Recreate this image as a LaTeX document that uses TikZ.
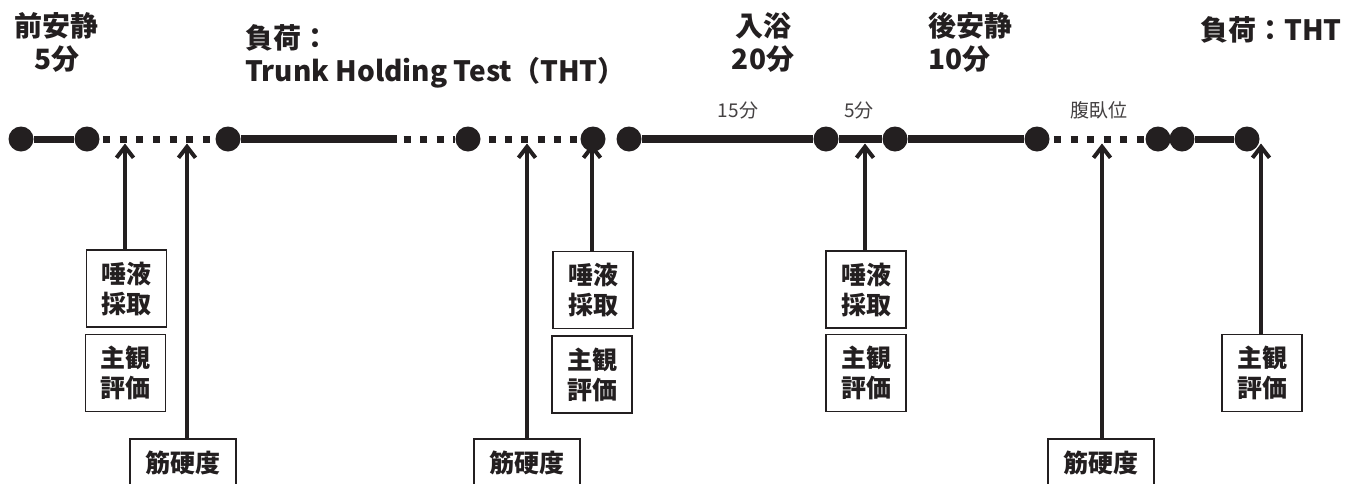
\documentclass[tikz,border=0pt]{standalone}
\usepackage{fontspec}
\setmainfont{Noto Sans CJK JP}
\usetikzlibrary{arrows.meta}
\definecolor{ink}{HTML}{231F20}
\begin{document}
\begin{tikzpicture}[x=1pt,y=-1pt,
  dot/.style={circle,fill=ink,inner sep=0pt,minimum size=25pt},
  thickln/.style={draw=ink,line width=8.5pt},
  thinln/.style={draw=ink,line width=7pt},
  dotln/.style={draw=ink,line width=7pt},
  box/.style={draw=ink,line width=1.8pt,minimum width=80pt,minimum height=77pt,inner sep=0pt,align=center,text=ink,font=\bfseries\fontsize{25}{30}\selectfont},
  wbox/.style={draw=ink,line width=1.8pt,minimum width=106pt,minimum height=48pt,inner sep=0pt,text=ink,font=\bfseries\fontsize{25}{30}\selectfont},
  arr/.style={draw=ink,line width=4pt,-{Straight Barb[length=11pt,width=17pt]}},
  head/.style={inner sep=0pt,text=ink,font=\bfseries\fontsize{28}{33}\selectfont},
  small/.style={inner sep=0pt,text=ink!85,font=\fontsize{19}{19}\selectfont}]
\useasboundingbox (0,0) rectangle (1369,483);
% headers
\node[head,align=center] (h1) at (57,42) {前安静\\5分};
\node[head,align=left,anchor=west] (h2) at (245,56) {負荷：\\Trunk Holding Test（THT）};
\node[head,align=center] (h3) at (763,42) {入浴\\20分};
\node[head,align=left,anchor=west] (h4) at (928,42) {後安静\\10分};
\node[head,anchor=west] (h5) at (1200,30) {負荷：THT};
\node[small] (l1) at (738,110) {15分};
\node[small] (l2) at (859,110) {5分};
\node[small] (l3) at (1099,110) {腹臥位};
% dots
\node[dot] (d1) at (21,139) {};
\node[dot] (d2) at (87,139) {};
\node[dot] (d3) at (228,139) {};
\coordinate (c1) at (397,139);
\node[dot] (d4) at (468,139) {};
\node[dot] (d5) at (593,139) {};
\node[dot] (d6) at (629,139) {};
\node[dot] (d7) at (826,139) {};
\node[dot] (d8) at (895,139) {};
\node[dot] (d9) at (1037,139) {};
\node[dot] (d10) at (1158,139) {};
\node[dot] (d11) at (1182,139) {};
\node[dot] (d12) at (1247,139) {};
% lines
\draw[thinln] (d1) -- (d2);
\draw[dotln,dash pattern=on 7pt off 9.67pt,dash phase=13.42pt] (d2) -- (d3);
\draw[thickln] (d3) -- (c1);
\draw[dotln,dash pattern=on 7pt off 9.5pt,dash phase=10pt] (c1) -- (d4);
\draw[dotln,dash pattern=on 7pt off 9.2pt,dash phase=7.95pt] (d4) -- (d5);
\draw[thickln] (d6) -- (d7);
\draw[thickln] (d7) -- (d8);
\draw[thickln] (d8) -- (d9);
\draw[dotln,dash pattern=on 7pt off 9.6pt,dash phase=12.35pt] (d9) -- (d10);
\draw[thinln] (d10) -- (d11);
\draw[thinln] (d11) -- (d12);
% boxes
\node[box] (s1) at (126.5,288.5) {唾液\\採取};
\node[box] (k1) at (125.5,373) {主観\\評価};
\node[wbox] (m1) at (183,463) {筋硬度};
\node[box] (s2) at (593,290) {唾液\\採取};
\node[box] (k2) at (592,374.5) {主観\\評価};
\node[wbox] (m2) at (527,463) {筋硬度};
\node[box] (s3) at (866,289.5) {唾液\\採取};
\node[box] (k3) at (866,373) {主観\\評価};
\node[wbox] (m3) at (1101,463) {筋硬度};
\node[box] (k4) at (1262,373) {主観\\評価};
% arrows
\coordinate (a1) at (125,143.5);
\coordinate (a2) at (187,143.5);
\coordinate (a3) at (527,143.5);
\coordinate (a4) at (592,143.5);
\coordinate (a5) at (865,143.5);
\coordinate (a6) at (1102,143.5);
\coordinate (a7) at (1261,143.5);
\draw[arr] (s1.north -| a1) -- (a1);
\draw[arr] (m1.north -| a2) -- (a2);
\draw[arr] (m2.north -| a3) -- (a3);
\draw[arr] (s2.north -| a4) -- (a4);
\draw[arr] (s3.north -| a5) -- (a5);
\draw[arr] (m3.north -| a6) -- (a6);
\draw[arr] (k4.north -| a7) -- (a7);
\end{tikzpicture}
\end{document}
